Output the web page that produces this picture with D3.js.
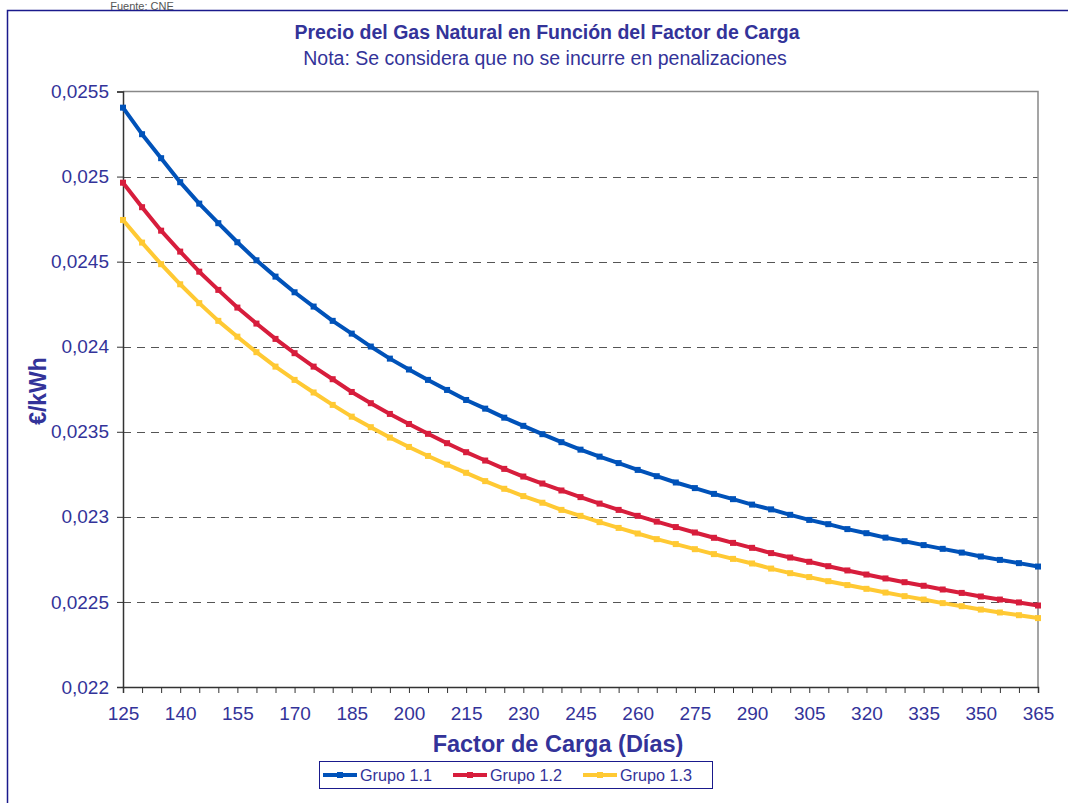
<!DOCTYPE html>
<html>
<head>
<meta charset="utf-8">
<script src="https://cdn.jsdelivr.net/npm/d3@7"></script>
<style>
  html, body { margin: 0; padding: 0; background: #fff; }
  svg { display: block; font-family: "Liberation Sans", Arial, sans-serif; }
</style>
</head>
<body>
<svg id="chart" width="1068" height="803"></svg>
<script>
// Load factor (days)
const dias = [125,130,135,140,145,150,155,160,165,170,175,180,185,190,195,200,205,210,215,220,
  225,230,235,240,245,250,255,260,265,270,275,280,285,290,295,300,305,310,315,320,
  325,330,335,340,345,350,355,360,365];

// Price in €/kWh per group
const grupo11 = [0.025405,0.025249,0.025108,0.024967,0.024841,0.024726,0.024614,0.024508,0.024412,0.024320,
  0.024236,0.024152,0.024077,0.024001,0.023930,0.023866,0.023805,0.023746,0.023687,0.023636,
  0.023583,0.023535,0.023486,0.023439,0.023395,0.023354,0.023316,0.023276,0.023239,0.023202,
  0.023169,0.023135,0.023104,0.023072,0.023044,0.023012,0.022982,0.022957,0.022928,0.022904,
  0.022878,0.022857,0.022834,0.022812,0.022790,0.022767,0.022747,0.022728,0.022708];
const grupo12 = [0.024964,0.024820,0.024682,0.024559,0.024441,0.024334,0.024230,0.024136,0.024046,0.023962,
  0.023883,0.023809,0.023734,0.023668,0.023605,0.023546,0.023488,0.023433,0.023380,0.023331,
  0.023282,0.023237,0.023196,0.023155,0.023116,0.023078,0.023041,0.023006,0.022972,0.022940,
  0.022908,0.022877,0.022847,0.022818,0.022787,0.022761,0.022736,0.022710,0.022685,0.022661,
  0.022638,0.022616,0.022595,0.022573,0.022553,0.022532,0.022514,0.022497,0.022479];
const grupo13 = [0.024745,0.024612,0.024485,0.024367,0.024256,0.024152,0.024059,0.023968,0.023883,0.023805,
  0.023731,0.023658,0.023589,0.023527,0.023466,0.023411,0.023358,0.023307,0.023259,0.023210,
  0.023165,0.023122,0.023083,0.023041,0.023006,0.022969,0.022935,0.022902,0.022869,0.022840,
  0.022810,0.022781,0.022753,0.022726,0.022696,0.022669,0.022646,0.022622,0.022599,0.022577,
  0.022555,0.022534,0.022514,0.022493,0.022475,0.022455,0.022438,0.022422,0.022405];

const seriesNames = ["Grupo 1.1", "Grupo 1.2", "Grupo 1.3"];
const seriesColors = ["#0052b9", "#d71d3c", "#ffc933"];
const seriesValues = [grupo11, grupo12, grupo13];

const yTicks = [0.022,0.0225,0.023,0.0235,0.024,0.0245,0.025,0.0255];
const xLabelTicks = [125,140,155,170,185,200,215,230,245,260,275,290,305,320,335,350,365];

const textColor = "#333399";
const fontFam = "Liberation Sans, Arial, sans-serif";
const svg = d3.select("#chart");

// Outer chart frame
svg.append("rect").attr("x", 7.5).attr("y", 10.5).attr("width", 1070).attr("height", 800)
  .attr("fill", "none").attr("stroke", "#1a1a8c").attr("stroke-width", 1.5);

// Source note above the frame
svg.append("text").attr("x", 142).attr("y", 10).attr("text-anchor", "middle")
  .attr("font-size", 11).attr("fill", "#555").text("Fuente: CNE");

const margin = { left: 123, right: 1038, top: 91.5, bottom: 687 };
const x = d3.scaleLinear().domain([125, 365]).range([margin.left, margin.right]);
const y = d3.scaleLinear().domain([0.022, 0.0255]).range([margin.bottom, margin.top]);

const fmt = v => d3.format(".4~f")(v).replace(".", ",");

// Titles
svg.append("text").attr("x", 547).attr("y", 39).attr("text-anchor", "middle")
  .attr("font-size", 19.5).attr("font-weight", "bold").attr("fill", textColor)
  .text("Precio del Gas Natural en Función del Factor de Carga");
svg.append("text").attr("x", 545).attr("y", 65).attr("text-anchor", "middle")
  .attr("font-size", 19.5).attr("fill", textColor)
  .text("Nota: Se considera que no se incurre en penalizaciones");

// Gridlines (dashed)
svg.append("g").selectAll("line").data(yTicks.filter(t => t > 0.022 && t < 0.0255)).join("line")
  .attr("x1", margin.left).attr("x2", margin.right)
  .attr("y1", d => Math.round(y(d)) + 0.5).attr("y2", d => Math.round(y(d)) + 0.5)
  .attr("stroke", "#555").attr("stroke-width", 1.2).attr("stroke-dasharray", "8,6");

// Plot frame top/right
svg.append("path")
  .attr("d", `M${margin.left},${margin.top}H${margin.right}V${margin.bottom}`)
  .attr("fill", "none").attr("stroke", "#888").attr("stroke-width", 1.5);

// Y axis
const yAxis = svg.append("g").attr("transform", `translate(${margin.left},0)`)
  .call(d3.axisLeft(y).tickValues(yTicks).tickFormat(fmt).tickSize(6).tickPadding(8));
yAxis.select(".domain").attr("stroke", "#333").attr("stroke-width", 1.5);
yAxis.selectAll(".tick line").attr("stroke", "#333");
yAxis.selectAll("text").attr("font-size", 19).attr("fill", textColor).attr("font-family", fontFam);

// X axis: ticks every 5 days, labels every 15
const xAxis = svg.append("g").attr("transform", `translate(0,${margin.bottom})`)
  .call(d3.axisBottom(x).tickValues(dias).tickFormat(d => xLabelTicks.includes(d) ? d : "")
    .tickSize(6).tickPadding(14));
xAxis.select(".domain").attr("stroke", "#333").attr("stroke-width", 1.5);
xAxis.selectAll(".tick line").attr("stroke", "#333");
xAxis.selectAll("text").attr("font-size", 19).attr("fill", textColor).attr("font-family", fontFam);

// Axis titles
svg.append("text").attr("x", 558).attr("y", 752).attr("text-anchor", "middle")
  .attr("font-size", 23.5).attr("font-weight", "bold").attr("fill", textColor)
  .text("Factor de Carga (Días)");
svg.append("text").attr("transform", "translate(46,391) rotate(-90)").attr("text-anchor", "middle")
  .attr("font-size", 23).attr("font-weight", "bold").attr("fill", textColor)
  .text("€/kWh");

// Series lines + markers
const line = d3.line().x((d, i) => x(dias[i])).y(d => y(d)).curve(d3.curveLinear);
seriesValues.forEach((vals, s) => {
  const g = svg.append("g");
  g.append("path").datum(vals).attr("d", line).attr("fill", "none")
    .attr("stroke", seriesColors[s]).attr("stroke-width", 4).attr("stroke-linejoin", "round");
  g.selectAll("rect").data(vals).join("rect")
    .attr("x", (d, i) => x(dias[i]) - 3).attr("y", d => y(d) - 3)
    .attr("width", 6).attr("height", 6).attr("fill", seriesColors[s]);
});

// Legend
const legend = svg.append("g");
legend.append("rect").attr("x", 319.5).attr("y", 761.5).attr("width", 393).attr("height", 27)
  .attr("fill", "#fff").attr("stroke", "#1a1a8c").attr("stroke-width", 1);
const legendX = [323, 453, 583];
seriesNames.forEach((name, s) => {
  const lx = legendX[s];
  legend.append("line").attr("x1", lx).attr("x2", lx + 34).attr("y1", 775).attr("y2", 775)
    .attr("stroke", seriesColors[s]).attr("stroke-width", 4);
  legend.append("rect").attr("x", lx + 14).attr("y", 772).attr("width", 6).attr("height", 6)
    .attr("fill", seriesColors[s]);
  legend.append("text").attr("x", lx + 37).attr("y", 781).attr("font-size", 16.2)
    .attr("fill", textColor).text(name);
});
</script>
</body>
</html>
